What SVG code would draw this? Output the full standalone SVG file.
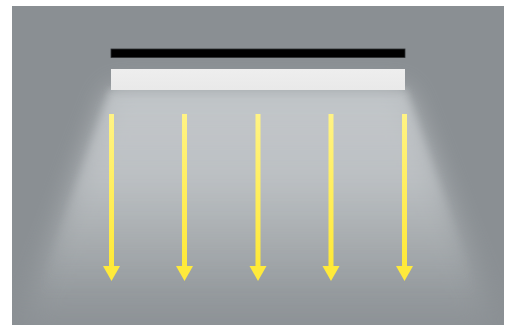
<svg xmlns="http://www.w3.org/2000/svg" width="509" height="325" viewBox="0 0 509 325">
  <defs>
    <linearGradient id="coneFill" x1="0" y1="90" x2="0" y2="320" gradientUnits="userSpaceOnUse">
      <stop offset="0" stop-color="#c6cacd"/>
      <stop offset="0.3" stop-color="#c2c6c9"/>
      <stop offset="0.65" stop-color="#aaafb2"/>
      <stop offset="1" stop-color="#8e9397"/>
    </linearGradient>
    <linearGradient id="coneFill2" x1="0" y1="90" x2="0" y2="300" gradientUnits="userSpaceOnUse">
      <stop offset="0" stop-color="#c6cacd" stop-opacity="1"/>
      <stop offset="0.45" stop-color="#c0c4c7" stop-opacity="0.7"/>
      <stop offset="1" stop-color="#a0a5a8" stop-opacity="0"/>
    </linearGradient>
    <linearGradient id="shaft" x1="0" y1="114" x2="0" y2="268" gradientUnits="userSpaceOnUse">
      <stop offset="0" stop-color="#fff385"/>
      <stop offset="1" stop-color="#ffe936"/>
    </linearGradient>
    <linearGradient id="panel" x1="0" y1="69" x2="0" y2="90" gradientUnits="userSpaceOnUse">
      <stop offset="0" stop-color="#eeeeee"/>
      <stop offset="1" stop-color="#e9e9e9"/>
    </linearGradient>
    <filter id="blur1" x="-20%" y="-20%" width="140%" height="140%">
      <feGaussianBlur stdDeviation="14"/>
    </filter>
    <filter id="blur2" x="-20%" y="-20%" width="140%" height="140%">
      <feGaussianBlur stdDeviation="4"/>
    </filter>
    <clipPath id="frame"><rect x="12" y="6" width="492" height="319"/></clipPath>
    <style>
      .head { fill: #ffea3a; }
    </style>
  </defs>

  <rect id="background" x="12" y="6" width="492" height="319" fill="#8a8f93"/>

  <g id="light" clip-path="url(#frame)">
    <path d="M 112 90 L 404 90 L 500 335 L 16 335 Z" fill="url(#coneFill)" filter="url(#blur1)" opacity="0.85"/>
    <path d="M 110 91 L 406 91 L 480 300 L 36 300 Z" fill="url(#coneFill2)" filter="url(#blur2)" opacity="0.75"/>
    <rect x="111" y="88" width="294" height="8" fill="#b9bdc0" filter="url(#blur2)" opacity="0.5"/>
  </g>

  <g id="fixture">
    <rect id="top-bar" x="111" y="49" width="294" height="8.5" fill="#000000" stroke="#2e3032" stroke-width="0.8"/>
    <rect id="diffuser" x="111" y="69" width="294" height="21" fill="url(#panel)"/>
  </g>

  <g id="connectors">
    <g id="arrow-1">
      <rect x="109" y="114" width="5" height="154" fill="url(#shaft)"/>
      <polygon class="head" points="103,266 120,266 111.5,281"/>
    </g>
    <g id="arrow-2">
      <rect x="182" y="114" width="5" height="154" fill="url(#shaft)"/>
      <polygon class="head" points="176,266 193,266 184.5,281"/>
    </g>
    <g id="arrow-3">
      <rect x="255.5" y="114" width="5" height="154" fill="url(#shaft)"/>
      <polygon class="head" points="249.5,266 266.5,266 258,281"/>
    </g>
    <g id="arrow-4">
      <rect x="328.5" y="114" width="5" height="154" fill="url(#shaft)"/>
      <polygon class="head" points="322.5,266 339.5,266 331,281"/>
    </g>
    <g id="arrow-5">
      <rect x="402" y="114" width="5" height="154" fill="url(#shaft)"/>
      <polygon class="head" points="396,266 413,266 404.5,281"/>
    </g>
  </g>
</svg>
